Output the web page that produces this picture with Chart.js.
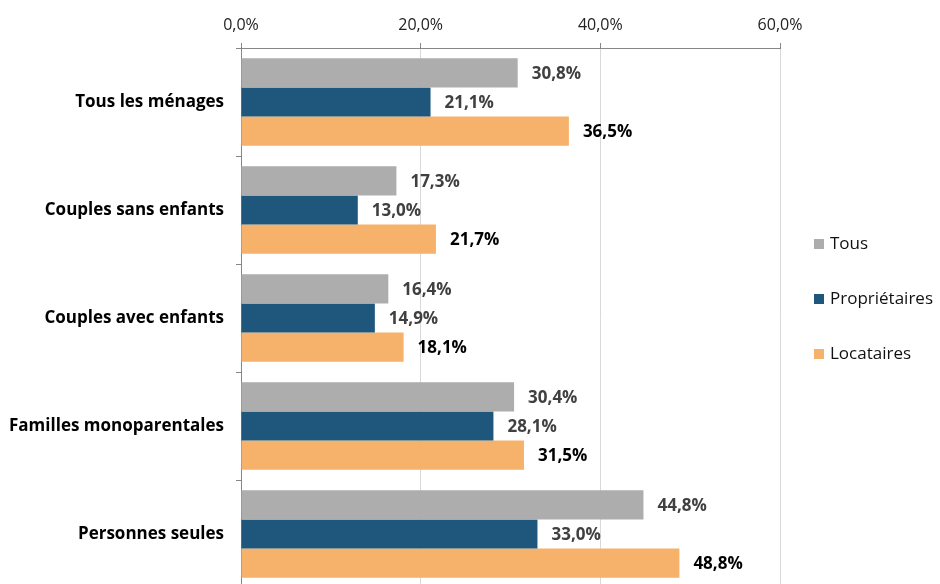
<!DOCTYPE html>
<html>
<head>
<meta charset="utf-8">
<script src="https://cdn.jsdelivr.net/npm/chart.js@4/dist/chart.umd.min.js"></script>
<style>
  html, body { margin: 0; padding: 0; background: #fff; overflow: hidden; }
  canvas { display: block; }
</style>
</head>
<body>
<canvas id="menagesChart" width="940" height="588"></canvas>
<script>
const categories = ['Tous les ménages', 'Couples sans enfants', 'Couples avec enfants', 'Familles monoparentales', 'Personnes seules'];
const seriesNames = ['Tous', 'Propriétaires', 'Locataires'];
const tous = [30.8, 17.3, 16.4, 30.4, 44.8];
const proprietaires = [21.1, 13.0, 14.9, 28.1, 33.0];
const locataires = [36.5, 21.7, 18.1, 31.5, 48.8];
const xTicks = [0, 20, 40, 60];

const colors = ['#ADADAD', '#1F567C', '#F6B26B'];
const labelColors = ['#404040', '#404040', '#000000'];
const FONT = '"Open Sans", sans-serif';

function fmt(v) {
    return v.toFixed(1).replace('.', ',') + '%';
}

// data labels at the end of each bar
const valueLabels = {
    id: 'valueLabels',
    afterDatasetsDraw(chart) {
        const c = chart.ctx;
        c.save();
        c.font = 'bold 17px ' + FONT;
        c.textBaseline = 'middle';
        c.textAlign = 'left';
        chart.data.datasets.forEach((ds, i) => {
            chart.getDatasetMeta(i).data.forEach((bar, j) => {
                c.fillStyle = labelColors[i];
                c.fillText(fmt(ds.data[j]), bar.x + 14, bar.y + 1);
            });
        });
        c.restore();
    }
};

// legend on the right, stacked vertically
const sideLegend = {
    id: 'sideLegend',
    afterDraw(chart) {
        const c = chart.ctx;
        c.save();
        c.font = '17px ' + FONT;
        c.textBaseline = 'middle';
        chart.data.datasets.forEach((ds, i) => {
            const y = 244 + i * 55;
            c.fillStyle = ds.backgroundColor;
            c.fillRect(814, y - 5, 10, 10);
            c.fillStyle = '#111';
            c.fillText(ds.label, 830, y);
        });
        c.restore();
    }
};

const chart = new Chart(document.getElementById('menagesChart').getContext('2d'), {
    type: 'bar',
    data: {
        labels: categories,
        datasets: [
            { label: seriesNames[0], data: tous, backgroundColor: colors[0] },
            { label: seriesNames[1], data: proprietaires, backgroundColor: colors[1] },
            { label: seriesNames[2], data: locataires, backgroundColor: colors[2] }
        ]
    },
    options: {
        indexAxis: 'y',
        responsive: false,
        animation: false,
        layout: { autoPadding: false, padding: { left: 0, right: 160, top: 0, bottom: 0 } },
        datasets: {
            bar: { categoryPercentage: 0.81, barPercentage: 1.0 }
        },
        plugins: {
            legend: { display: false },
            tooltip: { enabled: false }
        },
        scales: {
            x: {
                position: 'top',
                min: 0,
                max: 60,
                afterBuildTicks: (s) => { s.ticks = xTicks.map(v => ({ value: v })); },
                afterFit: (s) => { s.height = 48; s.paddingLeft = 0; s.paddingRight = 0; },
                ticks: {
                    callback: (v) => fmt(v),
                    font: { family: FONT, size: 16 },
                    color: '#222',
                    padding: 8,
                    maxRotation: 0
                },
                grid: { color: '#D9D9D9', tickColor: '#868686', tickLength: 5 },
                border: { color: '#868686' }
            },
            y: {
                afterFit: (s) => { s.width = 241; s.paddingTop = 0; s.paddingBottom = 0; },
                ticks: {
                    font: { family: FONT, size: 17, weight: 'bold' },
                    color: '#000',
                    padding: 12
                },
                grid: { drawOnChartArea: false, tickColor: '#868686', tickLength: 5, offset: true },
                border: { color: '#868686' }
            }
        }
    },
    plugins: [valueLabels, sideLegend]
});
</script>
</body>
</html>
